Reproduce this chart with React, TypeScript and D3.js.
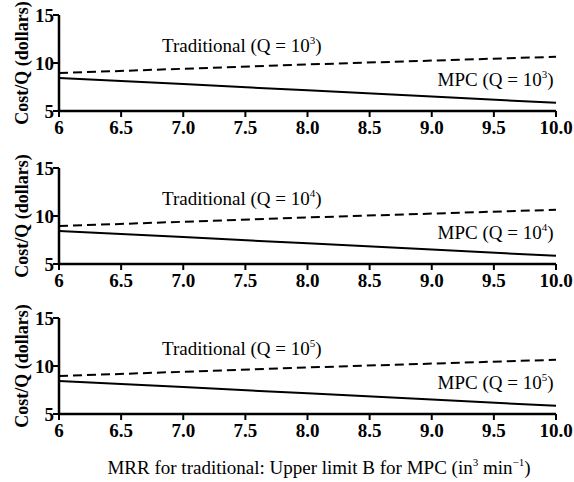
import React from 'react'
import * as d3 from 'd3'

// values
const xValues = [6, 7, 8, 9, 10]
const traditional = [8.95, 9.4, 9.85, 10.25, 10.65]
const mpc = [8.45, 7.8, 7.15, 6.5, 5.85]
const exponents = ['3', '4', '5']
const xTicks = [6, 6.5, 7, 7.5, 8, 8.5, 9, 9.5, 10]
const yTicks = [5, 10, 15]

const W = 574
const H = 482
const left = 59
const right = 556
const panelTops = [15, 168, 318]
const panelH = 96
const font = 'Liberation Serif, DejaVu Serif, serif'

function Panel({ top, exp }: { top: number; exp: string }) {
  const x = d3.scaleLinear().domain([6, 10]).range([left, right])
  const y = d3.scaleLinear().domain([5, 15]).range([top + panelH, top])
  const line = d3.line<number>()
    .x((_, i) => x(xValues[i]))
    .y(d => y(d))

  return (
    <g>
      <path d={line(traditional) || ''} fill="none" stroke="#000" strokeWidth={2} strokeDasharray="9,5" />
      <path d={line(mpc) || ''} fill="none" stroke="#000" strokeWidth={2} />

      {/* axes */}
      <line x1={left} x2={left} y1={y(15)} y2={y(5)} stroke="#000" strokeWidth={2.5} />
      <line x1={left} x2={right} y1={y(5)} y2={y(5)} stroke="#000" strokeWidth={2.5} />
      {yTicks.map(t => (
        <g key={t}>
          <line x1={left - 6} x2={left} y1={y(t)} y2={y(t)} stroke="#000" strokeWidth={2} />
          <text x={left - 5} y={y(t)} dy="0.35em" textAnchor="end" fontWeight="bold" fontSize={19}>{t}</text>
        </g>
      ))}
      {xTicks.map(t => (
        <g key={t}>
          <line x1={x(t)} x2={x(t)} y1={y(5)} y2={y(5) + 6} stroke="#000" strokeWidth={2} />
          <text x={x(t)} y={y(5) + 23} textAnchor="middle" fontWeight="bold"
            fontSize={19}>{t === 6 ? '6' : d3.format('.1f')(t)}</text>
        </g>
      ))}

      <text transform={`translate(28,${top + panelH / 2}) rotate(-90)`} textAnchor="middle"
        fontWeight="bold" fontSize={18}>Cost/Q (dollars)</text>

      <text x={162} y={y(11.1)} fontSize={19}>
        Traditional (Q = 10<tspan fontSize={11} dy={-8}>{exp}</tspan><tspan dy={8}>)</tspan>
      </text>
      <text x={x(9.98)} y={y(7.6)} textAnchor="end" fontSize={19}>
        MPC (Q = 10<tspan fontSize={11} dy={-8}>{exp}</tspan><tspan dy={8}>)</tspan>
      </text>
    </g>
  )
}

export default function App() {
  return (
    <svg width={W} height={H} style={{ position: 'absolute', left: 0, top: 0, background: '#fff', fontFamily: font }}>
      {panelTops.map((t, i) => (
        <Panel key={i} top={t} exp={exponents[i]} />
      ))}
      <text x={319} y={474} textAnchor="middle" fontSize={19}>
        MRR for traditional: Upper limit B for MPC (in<tspan fontSize={11} dy={-8}>3</tspan>
        <tspan dy={8}> min</tspan><tspan fontSize={11} dy={-8}>−1</tspan><tspan dy={8}>)</tspan>
      </text>
    </svg>
  )
}
